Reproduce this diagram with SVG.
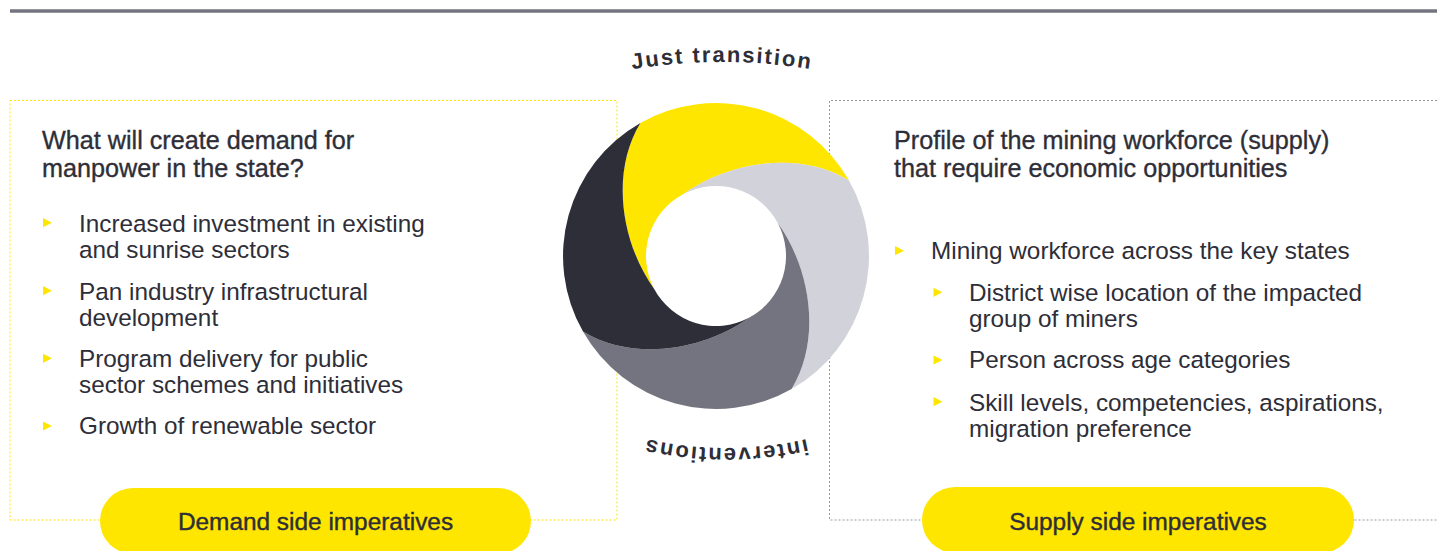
<svg xmlns="http://www.w3.org/2000/svg" xmlns:xlink="http://www.w3.org/1999/xlink" width="1437" height="551" viewBox="0 0 1437 551">
<style>
.t{font-family:"Liberation Sans",Arial,sans-serif;fill:#2e2e38}
.body{font-size:24.3px}
.head{font-size:25.2px;stroke:#2e2e38;stroke-width:0.35px}
.pilltxt{font-size:24.4px;stroke:#2e2e38;stroke-width:0.4px;text-anchor:middle}
.arc{font-size:22px;font-weight:700;letter-spacing:1.9px}
.bul{fill:#ffe600}
.pill{fill:#ffe600}
</style>
<defs>
<path id="tri" d="M0,-4.6 L9,0 L0,4.6 Z"/>
<path id="seg" d="M-75.6,-133 A153 153 0 0 1 133,-75.6 C85,-105 15,-96 -32.9,-61.8 A70 70 0 0 0 -61.8,32.9 C-96,-15 -105,-85 -75.6,-133 Z"/>
<path id="arcTop" d="M472,122.1 A550 550 0 0 1 972,122.1"/>
<path id="arcBot" d="M926,388.3 A365 365 0 0 1 526,388.3"/>
</defs>
<rect width="1437" height="551" fill="#ffffff"/>
<line x1="10" y1="11" x2="1437" y2="11" stroke="#747480" stroke-width="3.5"/>

<g id="demand-box">
<rect x="10" y="100.5" width="607" height="419.5" fill="none" stroke="#ffe600" stroke-width="1" stroke-dasharray="2 2"/>
<text class="t head" x="42" y="149">What will create demand for</text>
<text class="t head" x="42" y="177">manpower in the state?</text>
<use href="#tri" class="bul" x="43" y="222.7"/>
<text class="t body" x="79" y="232.3">Increased investment in existing</text>
<text class="t body" x="79" y="258.3">and sunrise sectors</text>
<use href="#tri" class="bul" x="43" y="290.7"/>
<text class="t body" x="79" y="300">Pan industry infrastructural</text>
<text class="t body" x="79" y="325.5">development</text>
<use href="#tri" class="bul" x="43" y="358.3"/>
<text class="t body" x="79" y="366.7">Program delivery for public</text>
<text class="t body" x="79" y="392.7">sector schemes and initiatives</text>
<use href="#tri" class="bul" x="43" y="426"/>
<text class="t body" x="79" y="434.3">Growth of renewable sector</text>
</g>

<g id="supply-box">
<path d="M1437,100.5 H829.5 V520 H1437" fill="none" stroke="#999999" stroke-width="1" stroke-dasharray="2 2"/>
<text class="t head" x="894" y="148.5">Profile of the mining workforce (supply)</text>
<text class="t head" x="894" y="176.5">that require economic opportunities</text>
<use href="#tri" class="bul" x="895" y="250.7"/>
<text class="t body" x="931" y="259.3">Mining workforce across the key states</text>
<use href="#tri" class="bul" x="933.5" y="292.3"/>
<text class="t body" x="969" y="301">District wise location of the impacted</text>
<text class="t body" x="969" y="326.7">group of miners</text>
<use href="#tri" class="bul" x="933.5" y="360"/>
<text class="t body" x="969" y="368.3">Person across age categories</text>
<use href="#tri" class="bul" x="933.5" y="401.7"/>
<text class="t body" x="969" y="411">Skill levels, competencies, aspirations,</text>
<text class="t body" x="969" y="436.7">migration preference</text>
</g>

<g id="swirl" transform="translate(716,256)">
<use href="#seg" fill="#ffe600"/>
<use href="#seg" fill="#d2d2da" transform="rotate(90)"/>
<use href="#seg" fill="#747480" transform="rotate(180)"/>
<use href="#seg" fill="#2e2e38" transform="rotate(270)"/>
</g>

<g id="label-just-transition">
<text class="t arc"><textPath href="#arcTop" startOffset="50%" text-anchor="middle">Just transition</textPath></text>
</g>
<g id="label-interventions">
<text class="t arc"><textPath href="#arcBot" startOffset="50%" text-anchor="middle">interventions</textPath></text>
</g>

<g id="demand-pill">
<rect class="pill" x="100" y="488" width="431" height="66" rx="33" ry="33"/>
<text class="t pilltxt" x="315.5" y="530">Demand side imperatives</text>
</g>
<g id="supply-pill">
<rect class="pill" x="922" y="487" width="432" height="66" rx="33" ry="33"/>
<text class="t pilltxt" x="1138" y="529.5">Supply side imperatives</text>
</g>
</svg>
